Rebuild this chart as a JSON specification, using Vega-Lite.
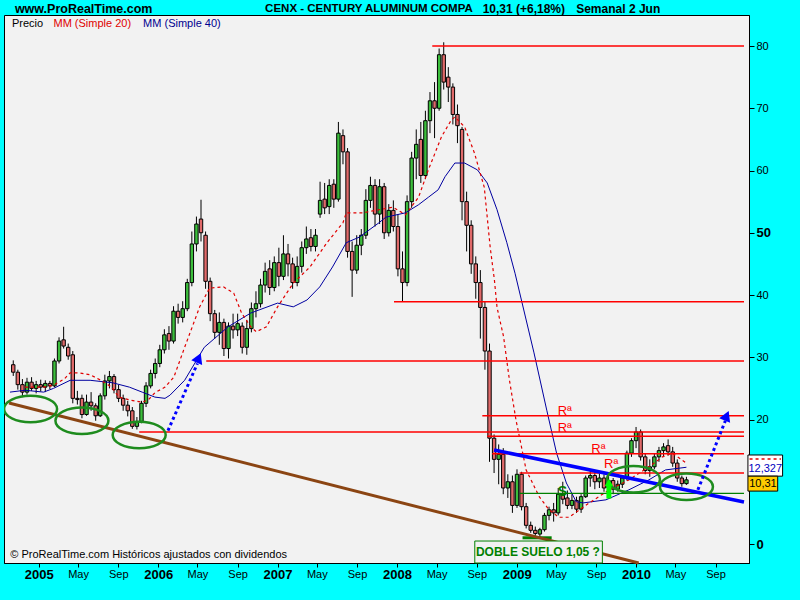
{
"$schema": "https://vega.github.io/schema/vega-lite/v6.json",
"width": 745, "height": 548,
"autosize": "none",
"padding": {"left": 4, "top": 15, "right": 51, "bottom": 37},
"background": "#00FFFF",
"config": {"view": {"fill": "#F2F2F2", "stroke": "#000000", "strokeWidth": 1}, "font": "Liberation Sans", "axis": {"grid": false}},
"datasets": {
"candles": [
{"d":"2004-10-15","o":28.8,"h":29.5,"l":27.0,"c":27.6},
{"d":"2004-10-29","o":27.6,"h":28.0,"l":24.8,"c":25.6},
{"d":"2004-11-12","o":25.6,"h":26.5,"l":23.6,"c":24.4},
{"d":"2004-11-26","o":24.4,"h":26.7,"l":24.0,"c":26.0},
{"d":"2004-12-10","o":26.0,"h":26.8,"l":24.6,"c":25.0},
{"d":"2004-12-24","o":25.0,"h":26.2,"l":24.2,"c":25.6},
{"d":"2005-01-07","o":25.6,"h":26.4,"l":24.5,"c":25.2},
{"d":"2005-01-21","o":25.2,"h":26.3,"l":24.4,"c":25.8},
{"d":"2005-02-04","o":25.8,"h":26.2,"l":24.9,"c":25.4},
{"d":"2005-02-18","o":25.4,"h":29.8,"l":25.2,"c":29.4},
{"d":"2005-03-04","o":29.4,"h":33.2,"l":29.0,"c":32.6},
{"d":"2005-03-18","o":32.8,"h":34.9,"l":31.4,"c":31.8},
{"d":"2005-04-01","o":31.6,"h":32.2,"l":29.6,"c":30.2},
{"d":"2005-04-15","o":30.4,"h":31.0,"l":22.6,"c":23.4},
{"d":"2005-04-29","o":23.4,"h":24.6,"l":22.4,"c":23.2},
{"d":"2005-05-13","o":23.4,"h":24.0,"l":20.2,"c":20.8},
{"d":"2005-05-27","o":20.8,"h":24.0,"l":20.6,"c":22.8},
{"d":"2005-06-10","o":22.8,"h":24.4,"l":21.4,"c":22.2},
{"d":"2005-06-24","o":22.2,"h":22.6,"l":19.8,"c":20.6},
{"d":"2005-07-08","o":20.6,"h":24.2,"l":20.4,"c":23.8},
{"d":"2005-07-22","o":23.8,"h":27.2,"l":23.2,"c":26.2},
{"d":"2005-08-05","o":26.2,"h":27.8,"l":25.0,"c":26.9},
{"d":"2005-08-19","o":26.9,"h":27.3,"l":24.2,"c":24.8},
{"d":"2005-09-02","o":24.8,"h":25.6,"l":22.8,"c":23.4},
{"d":"2005-09-16","o":23.4,"h":24.0,"l":21.4,"c":22.3},
{"d":"2005-09-30","o":22.3,"h":23.0,"l":20.5,"c":21.4},
{"d":"2005-10-14","o":21.4,"h":22.0,"l":18.5,"c":18.9},
{"d":"2005-10-28","o":18.9,"h":20.4,"l":18.4,"c":19.7},
{"d":"2005-11-11","o":19.7,"h":23.0,"l":19.4,"c":22.6},
{"d":"2005-11-25","o":22.6,"h":26.0,"l":22.0,"c":25.4},
{"d":"2005-12-09","o":25.4,"h":28.0,"l":25.0,"c":27.4},
{"d":"2005-12-23","o":27.4,"h":29.8,"l":26.6,"c":29.0},
{"d":"2006-01-06","o":29.0,"h":32.0,"l":28.4,"c":31.2},
{"d":"2006-01-20","o":31.2,"h":34.5,"l":30.6,"c":33.6},
{"d":"2006-02-03","o":33.8,"h":35.0,"l":31.2,"c":32.6},
{"d":"2006-02-17","o":32.6,"h":38.2,"l":32.2,"c":37.4},
{"d":"2006-03-03","o":37.4,"h":38.6,"l":35.4,"c":36.4},
{"d":"2006-03-17","o":36.4,"h":39.0,"l":35.6,"c":37.8},
{"d":"2006-03-31","o":37.8,"h":42.6,"l":37.4,"c":42.0},
{"d":"2006-04-14","o":42.0,"h":50.2,"l":41.4,"c":48.2},
{"d":"2006-04-28","o":48.2,"h":52.6,"l":47.0,"c":51.4},
{"d":"2006-05-12","o":52.2,"h":55.3,"l":48.6,"c":50.0},
{"d":"2006-05-26","o":49.6,"h":50.2,"l":41.0,"c":42.2},
{"d":"2006-06-09","o":42.2,"h":42.8,"l":35.8,"c":37.0},
{"d":"2006-06-23","o":37.0,"h":37.6,"l":33.0,"c":34.0},
{"d":"2006-07-07","o":34.0,"h":37.2,"l":32.0,"c":35.6},
{"d":"2006-07-21","o":35.6,"h":36.2,"l":30.2,"c":31.4},
{"d":"2006-08-04","o":31.4,"h":35.6,"l":29.8,"c":35.0},
{"d":"2006-08-18","o":35.0,"h":37.0,"l":33.0,"c":34.4},
{"d":"2006-09-01","o":34.4,"h":37.0,"l":33.4,"c":35.4},
{"d":"2006-09-15","o":35.0,"h":35.6,"l":30.6,"c":31.6},
{"d":"2006-09-29","o":31.6,"h":36.0,"l":30.4,"c":34.6},
{"d":"2006-10-13","o":34.6,"h":38.8,"l":34.0,"c":37.8},
{"d":"2006-10-27","o":37.8,"h":40.6,"l":36.4,"c":38.6},
{"d":"2006-11-10","o":38.6,"h":42.6,"l":38.0,"c":41.6},
{"d":"2006-11-24","o":41.6,"h":45.2,"l":40.4,"c":43.8},
{"d":"2006-12-08","o":44.2,"h":45.6,"l":40.0,"c":41.2},
{"d":"2006-12-22","o":41.2,"h":46.2,"l":40.6,"c":45.2},
{"d":"2007-01-05","o":45.2,"h":47.6,"l":41.4,"c":43.0},
{"d":"2007-01-19","o":43.0,"h":49.6,"l":42.4,"c":46.6},
{"d":"2007-02-02","o":46.6,"h":48.2,"l":43.0,"c":45.0},
{"d":"2007-02-16","o":45.0,"h":46.0,"l":41.0,"c":42.0},
{"d":"2007-03-02","o":42.0,"h":46.2,"l":41.4,"c":44.6},
{"d":"2007-03-16","o":44.6,"h":48.6,"l":43.6,"c":47.6},
{"d":"2007-03-30","o":47.6,"h":51.0,"l":46.6,"c":49.0},
{"d":"2007-04-13","o":49.2,"h":50.6,"l":47.0,"c":47.8},
{"d":"2007-04-27","o":47.8,"h":50.6,"l":47.0,"c":49.6},
{"d":"2007-05-11","o":53.0,"h":58.2,"l":52.4,"c":55.2},
{"d":"2007-05-25","o":55.4,"h":58.0,"l":53.0,"c":54.0},
{"d":"2007-06-08","o":54.2,"h":58.6,"l":53.0,"c":57.6},
{"d":"2007-06-22","o":57.8,"h":58.6,"l":54.0,"c":55.4},
{"d":"2007-07-06","o":55.4,"h":67.8,"l":55.0,"c":66.0},
{"d":"2007-07-20","o":65.6,"h":66.6,"l":61.0,"c":63.0},
{"d":"2007-08-03","o":63.0,"h":63.6,"l":46.0,"c":47.0},
{"d":"2007-08-17","o":47.0,"h":48.6,"l":39.7,"c":44.0},
{"d":"2007-08-31","o":44.0,"h":49.6,"l":43.4,"c":48.0},
{"d":"2007-09-14","o":48.0,"h":50.6,"l":46.4,"c":49.6},
{"d":"2007-09-28","o":49.6,"h":57.0,"l":49.0,"c":55.2},
{"d":"2007-10-12","o":55.2,"h":59.0,"l":54.0,"c":57.6},
{"d":"2007-10-26","o":57.6,"h":58.6,"l":51.0,"c":53.0},
{"d":"2007-11-09","o":53.0,"h":58.6,"l":51.4,"c":57.4},
{"d":"2007-11-23","o":57.4,"h":58.0,"l":49.0,"c":50.0},
{"d":"2007-12-07","o":50.0,"h":54.6,"l":49.4,"c":53.6},
{"d":"2007-12-21","o":53.6,"h":55.2,"l":50.2,"c":51.0},
{"d":"2008-01-04","o":51.0,"h":53.0,"l":43.0,"c":44.2},
{"d":"2008-01-18","o":44.2,"h":47.0,"l":38.9,"c":42.0},
{"d":"2008-02-01","o":42.0,"h":56.0,"l":41.4,"c":55.0},
{"d":"2008-02-15","o":55.0,"h":63.0,"l":54.0,"c":62.0},
{"d":"2008-02-29","o":62.0,"h":66.6,"l":58.6,"c":64.2},
{"d":"2008-03-14","o":65.0,"h":67.8,"l":58.0,"c":59.2},
{"d":"2008-03-28","o":59.2,"h":69.6,"l":58.6,"c":68.0},
{"d":"2008-04-11","o":68.0,"h":72.6,"l":66.0,"c":71.2},
{"d":"2008-04-25","o":71.2,"h":74.2,"l":65.2,"c":70.0},
{"d":"2008-05-09","o":70.0,"h":79.6,"l":69.6,"c":78.6},
{"d":"2008-05-23","o":78.6,"h":80.6,"l":73.0,"c":74.2},
{"d":"2008-06-06","o":75.0,"h":76.6,"l":71.0,"c":73.4},
{"d":"2008-06-20","o":73.4,"h":74.0,"l":67.4,"c":69.0},
{"d":"2008-07-04","o":69.0,"h":70.6,"l":64.4,"c":67.2},
{"d":"2008-07-18","o":66.6,"h":67.0,"l":52.0,"c":55.0},
{"d":"2008-08-01","o":55.0,"h":56.6,"l":47.0,"c":51.2},
{"d":"2008-08-15","o":51.2,"h":52.0,"l":43.4,"c":45.0},
{"d":"2008-08-29","o":45.0,"h":46.2,"l":39.4,"c":42.0},
{"d":"2008-09-12","o":42.0,"h":44.0,"l":33.0,"c":38.0},
{"d":"2008-09-26","o":38.0,"h":39.0,"l":28.0,"c":31.0},
{"d":"2008-10-10","o":31.0,"h":32.2,"l":13.2,"c":17.0},
{"d":"2008-10-24","o":17.0,"h":17.6,"l":11.4,"c":13.6},
{"d":"2008-11-07","o":13.6,"h":16.0,"l":9.6,"c":14.4},
{"d":"2008-11-21","o":14.4,"h":15.4,"l":8.0,"c":9.0},
{"d":"2008-12-05","o":9.0,"h":11.2,"l":7.4,"c":10.0},
{"d":"2008-12-19","o":10.0,"h":11.0,"l":5.0,"c":6.2},
{"d":"2009-01-02","o":6.2,"h":12.0,"l":5.8,"c":11.2},
{"d":"2009-01-16","o":11.2,"h":11.6,"l":5.4,"c":6.0},
{"d":"2009-01-30","o":6.0,"h":6.6,"l":2.5,"c":3.0},
{"d":"2009-02-13","o":3.0,"h":3.6,"l":1.8,"c":2.2},
{"d":"2009-02-27","o":2.2,"h":2.8,"l":1.3,"c":1.7},
{"d":"2009-03-13","o":1.6,"h":2.6,"l":1.05,"c":2.3},
{"d":"2009-03-27","o":2.3,"h":5.0,"l":2.0,"c":4.6},
{"d":"2009-04-10","o":4.6,"h":6.0,"l":3.8,"c":5.5},
{"d":"2009-04-24","o":5.5,"h":6.6,"l":3.6,"c":5.0},
{"d":"2009-05-08","o":5.0,"h":9.0,"l":4.6,"c":8.0},
{"d":"2009-05-22","o":8.0,"h":10.0,"l":6.4,"c":7.2},
{"d":"2009-06-05","o":7.4,"h":8.6,"l":5.6,"c":6.2},
{"d":"2009-06-19","o":6.2,"h":8.0,"l":5.6,"c":7.0},
{"d":"2009-07-03","o":7.0,"h":7.6,"l":5.0,"c":5.6},
{"d":"2009-07-17","o":5.6,"h":8.0,"l":5.0,"c":7.6},
{"d":"2009-07-31","o":7.6,"h":11.0,"l":7.4,"c":10.6},
{"d":"2009-08-14","o":10.6,"h":12.0,"l":9.2,"c":11.0},
{"d":"2009-08-28","o":11.0,"h":11.8,"l":8.8,"c":10.0},
{"d":"2009-09-11","o":10.0,"h":11.6,"l":9.0,"c":10.6},
{"d":"2009-09-25","o":10.6,"h":11.2,"l":8.4,"c":9.0},
{"d":"2009-10-09","o":9.0,"h":11.2,"l":8.4,"c":10.2},
{"d":"2009-10-23","o":10.2,"h":10.6,"l":8.0,"c":8.8},
{"d":"2009-11-06","o":8.8,"h":10.2,"l":8.4,"c":9.6},
{"d":"2009-11-20","o":9.6,"h":11.0,"l":9.0,"c":10.6},
{"d":"2009-12-04","o":10.6,"h":15.0,"l":10.2,"c":14.6},
{"d":"2009-12-18","o":14.6,"h":17.0,"l":14.0,"c":16.6},
{"d":"2010-01-01","o":16.6,"h":18.8,"l":15.4,"c":18.0},
{"d":"2010-01-15","o":18.0,"h":18.4,"l":13.4,"c":14.0},
{"d":"2010-01-29","o":14.0,"h":14.6,"l":11.2,"c":11.8},
{"d":"2010-02-12","o":11.8,"h":13.6,"l":10.8,"c":12.4},
{"d":"2010-02-26","o":12.4,"h":14.6,"l":12.0,"c":14.0},
{"d":"2010-03-12","o":14.0,"h":15.6,"l":13.2,"c":15.0},
{"d":"2010-03-26","o":15.0,"h":16.2,"l":14.0,"c":15.6},
{"d":"2010-04-09","o":15.8,"h":16.8,"l":14.2,"c":14.8},
{"d":"2010-04-23","o":14.8,"h":15.6,"l":12.4,"c":13.0},
{"d":"2010-05-07","o":13.0,"h":13.6,"l":10.0,"c":10.6},
{"d":"2010-05-21","o":10.6,"h":11.0,"l":9.2,"c":9.7},
{"d":"2010-06-04","o":9.7,"h":10.8,"l":9.5,"c":10.31}
],
"ma20": [
{"d":"2004-11-20","v":25.2},{"d":"2005-01-16","v":25.2},{"d":"2005-02-15","v":25.5},{"d":"2005-03-20","v":26.5},
{"d":"2005-04-07","v":27.5},{"d":"2005-05-01","v":27.5},{"d":"2005-06-07","v":27.2},{"d":"2005-07-10","v":26.3},
{"d":"2005-08-12","v":25.2},{"d":"2005-09-03","v":23.6},{"d":"2005-10-10","v":23.1},{"d":"2005-11-13","v":22.8},
{"d":"2005-12-01","v":23.1},{"d":"2005-12-22","v":24.3},{"d":"2006-01-22","v":25.2},{"d":"2006-02-18","v":26.8},
{"d":"2006-03-23","v":31.6},{"d":"2006-05-08","v":38.1},{"d":"2006-06-07","v":41.1},{"d":"2006-07-20","v":41.3},
{"d":"2006-08-20","v":40.3},{"d":"2006-09-13","v":37.1},{"d":"2006-10-11","v":34.9},{"d":"2006-10-28","v":34.1},
{"d":"2006-11-28","v":34.9},{"d":"2007-01-01","v":38.1},{"d":"2007-02-18","v":41.9},{"d":"2007-04-10","v":44.5},
{"d":"2007-06-01","v":48.4},{"d":"2007-07-20","v":51.6},{"d":"2007-07-30","v":53.2},{"d":"2007-09-18","v":53.2},
{"d":"2007-11-07","v":53.7},{"d":"2007-12-20","v":54.1},{"d":"2008-01-27","v":52.9},{"d":"2008-03-07","v":55.7},
{"d":"2008-04-06","v":60.1},{"d":"2008-05-16","v":65.4},{"d":"2008-06-15","v":68.1},{"d":"2008-06-26","v":68.6},
{"d":"2008-07-26","v":67.0},{"d":"2008-08-25","v":62.8},{"d":"2008-09-24","v":57.3},{"d":"2008-10-12","v":47.7},
{"d":"2008-10-25","v":42.4},{"d":"2008-11-02","v":38.0},{"d":"2008-11-22","v":33.3},{"d":"2008-12-10","v":26.3},
{"d":"2008-12-30","v":19.9},{"d":"2009-01-30","v":11.9},{"d":"2009-03-11","v":7.6},{"d":"2009-04-10","v":5.5},
{"d":"2009-05-10","v":4.3},{"d":"2009-06-10","v":4.3},{"d":"2009-08-11","v":6.6},{"d":"2009-10-11","v":8.7},
{"d":"2009-12-10","v":10.3},{"d":"2010-02-09","v":12.4},{"d":"2010-03-23","v":14.0},{"d":"2010-04-22","v":14.6},
{"d":"2010-06-04","v":13.0}
],
"ma40": [
{"d":"2004-10-05","v":24.4},{"d":"2004-11-20","v":24.7},{"d":"2005-01-16","v":24.4},{"d":"2005-02-15","v":25.0},
{"d":"2005-04-07","v":26.3},{"d":"2005-06-07","v":26.3},{"d":"2005-08-15","v":25.9},{"d":"2005-10-05","v":25.2},
{"d":"2005-11-13","v":24.4},{"d":"2005-12-22","v":23.6},{"d":"2006-01-22","v":23.4},{"d":"2006-02-06","v":23.9},
{"d":"2006-03-23","v":26.3},{"d":"2006-05-22","v":31.6},{"d":"2006-08-03","v":34.9},{"d":"2006-10-11","v":37.1},
{"d":"2007-01-01","v":38.7},{"d":"2007-02-18","v":38.1},{"d":"2007-04-01","v":39.2},{"d":"2007-05-10","v":41.3},
{"d":"2007-06-18","v":44.5},{"d":"2007-07-30","v":48.4},{"d":"2007-09-08","v":49.3},{"d":"2007-11-07","v":51.6},
{"d":"2007-11-28","v":52.5},{"d":"2008-01-27","v":53.2},{"d":"2008-03-07","v":54.5},{"d":"2008-04-06","v":55.7},
{"d":"2008-05-06","v":56.9},{"d":"2008-05-27","v":59.0},{"d":"2008-06-26","v":61.2},{"d":"2008-07-26","v":61.2},
{"d":"2008-09-03","v":60.1},{"d":"2008-10-03","v":58.0},{"d":"2008-11-02","v":53.7},{"d":"2008-12-02","v":48.4},
{"d":"2008-12-27","v":43.5},{"d":"2009-02-23","v":30.7},{"d":"2009-04-03","v":21.5},{"d":"2009-05-03","v":14.6},
{"d":"2009-06-02","v":9.8},{"d":"2009-07-02","v":6.8},{"d":"2009-07-23","v":6.6},{"d":"2009-10-01","v":7.1},
{"d":"2009-12-10","v":8.7},{"d":"2010-02-09","v":10.3},{"d":"2010-04-01","v":11.9},{"d":"2010-06-04","v":12.33}
],
"hlines": [
{"s":"2008-04-18","e":"2010-11-27","v":80},
{"s":"2007-12-23","e":"2010-11-27","v":38.9},
{"s":"2006-05-28","e":"2010-11-27","v":29.4},
{"s":"2005-11-04","e":"2010-11-27","v":18.0},
{"s":"2008-09-18","e":"2010-11-27","v":20.6},
{"s":"2008-10-03","e":"2010-11-27","v":17.3},
{"s":"2008-10-18","e":"2010-11-27","v":14.5},
{"s":"2009-01-10","e":"2010-11-27","v":11.4}
],
"ellipses": [
{"d":"2004-12-07","v":21.7},{"d":"2005-05-13","v":19.8},{"d":"2005-11-04","v":17.5},{"d":"2009-12-24","v":10.4},{"d":"2010-06-04","v":9.2}
]
},
"layer": [
{"data": {"name": "candles"}, "mark": {"type": "rule", "color": "#000000", "strokeWidth": 1},
 "encoding": {
  "x": {"field": "d", "type": "temporal",
   "scale": {"domain": [{"year": 2004, "month": 10, "date": 2}, {"year": 2010, "month": 11, "date": 27}]},
   "axis": {"orient": "bottom", "title": null, "grid": false, "domainColor": "#000000", "tickColor": "#000000", "tickSize": 4,
    "labelPadding": 1, "labelAlign": "center", "labelBaseline": "top", "labelFlush": false, "labelOverlap": false, "labelColor": "#000000",
    "labelFont": "Liberation Sans",
    "labelFontSize": {"condition": {"test": "month(datum.value) == 0", "value": 13}, "value": 11},
    "labelFontWeight": {"condition": {"test": "month(datum.value) == 0", "value": "bold"}, "value": "normal"},
    "labelExpr": "month(datum.value) == 0 ? timeFormat(datum.value, '%Y') : (month(datum.value) == 4 ? 'May' : 'Sep')",
    "values": [{"year":2005,"month":1,"date":1},{"year":2005,"month":5,"date":1},{"year":2005,"month":9,"date":1},
               {"year":2006,"month":1,"date":1},{"year":2006,"month":5,"date":1},{"year":2006,"month":9,"date":1},
               {"year":2007,"month":1,"date":1},{"year":2007,"month":5,"date":1},{"year":2007,"month":9,"date":1},
               {"year":2008,"month":1,"date":1},{"year":2008,"month":5,"date":1},{"year":2008,"month":9,"date":1},
               {"year":2009,"month":1,"date":1},{"year":2009,"month":5,"date":1},{"year":2009,"month":9,"date":1},
               {"year":2010,"month":1,"date":1},{"year":2010,"month":5,"date":1},{"year":2010,"month":9,"date":1}]}},
  "y": {"field": "l", "type": "quantitative",
   "scale": {"domain": [-3.05, 84.98], "nice": false, "zero": false},
   "axis": {"orient": "right", "title": null, "grid": false, "domainColor": "#000000", "tickColor": "#000000", "tickSize": 5,
    "labelPadding": 2, "labelColor": "#000000", "labelFont": "Liberation Sans",
    "labelExpr": "datum.value == 10 ? '' : datum.label",
    "labelFontSize": {"condition": {"test": "datum.value == 50 || datum.value == 0", "value": 13}, "value": 11},
    "labelFontWeight": {"condition": {"test": "datum.value == 50 || datum.value == 0", "value": "bold"}, "value": "normal"},
    "values": [0,5,10,15,20,25,30,35,40,45,50,55,60,65,70,75,80]}},
  "y2": {"field": "h"}}},
{"data": {"name": "candles"}, "mark": {"type": "bar", "size": 3.4, "stroke": "#000000", "strokeWidth": 1},
 "encoding": {
  "x": {"field": "d", "type": "temporal", "title": null},
  "y": {"field": "o", "type": "quantitative", "title": null},
  "y2": {"field": "c"},
  "fill": {"condition": {"test": "datum.c >= datum.o", "value": "#3CBE3C"}, "value": "#E06A6A"}}},
{"data": {"name": "ma40"}, "mark": {"type": "line", "color": "#0000A0", "strokeWidth": 1},
 "encoding": {"x": {"field": "d", "type": "temporal", "title": null}, "y": {"field": "v", "type": "quantitative", "title": null}}},
{"data": {"name": "ma20"}, "mark": {"type": "line", "color": "#E00000", "strokeWidth": 1.2, "strokeDash": [3, 3]},
 "encoding": {"x": {"field": "d", "type": "temporal", "title": null}, "y": {"field": "v", "type": "quantitative", "title": null}}},
{"data": {"name": "hlines"}, "mark": {"type": "rule", "color": "#FF0000", "strokeWidth": 1.5},
 "encoding": {"x": {"field": "s", "type": "temporal", "title": null}, "x2": {"field": "e"}, "y": {"field": "v", "type": "quantitative", "title": null}}},
{"data": {"values": [{"s": "2009-01-10", "e": "2010-11-27", "v": 8.15}]}, "mark": {"type": "rule", "color": "#008000", "strokeWidth": 1.2},
 "encoding": {"x": {"field": "s", "type": "temporal", "title": null}, "x2": {"field": "e"}, "y": {"field": "v", "type": "quantitative", "title": null}}},
{"data": {"values": [{"s": "2009-01-19", "e": "2009-04-18", "v": 1.0}]}, "mark": {"type": "rule", "color": "#008000", "strokeWidth": 3},
 "encoding": {"x": {"field": "s", "type": "temporal", "title": null}, "x2": {"field": "e"}, "y": {"field": "v", "type": "quantitative", "title": null}}},
{"data": {"values": [{"d1": "2004-10-02", "v1": 22.65, "d2": "2010-01-09", "v2": -3.05}]}, "mark": {"type": "rule", "color": "#8B4513", "strokeWidth": 3},
 "encoding": {"x": {"field": "d1", "type": "temporal", "title": null}, "y": {"field": "v1", "type": "quantitative", "title": null}, "x2": {"field": "d2"}, "y2": {"field": "v2"}}},
{"data": {"values": [{"d1": "2008-10-24", "v1": 15.1, "d2": "2010-11-27", "v2": 6.75}]}, "mark": {"type": "rule", "color": "#0000FF", "strokeWidth": 3.5},
 "encoding": {"x": {"field": "d1", "type": "temporal", "title": null}, "y": {"field": "v1", "type": "quantitative", "title": null}, "x2": {"field": "d2"}, "y2": {"field": "v2"}}},
{"data": {"name": "ellipses"}, "mark": {"type": "point", "clip": true, "filled": false, "stroke": "#1E8C1E", "strokeWidth": 2.5, "opacity": 1, "size": 2809,
  "shape": "M -1 0 C -1 -0.276 -0.552 -0.5 0 -0.5 C 0.552 -0.5 1 -0.276 1 0 C 1 0.276 0.552 0.5 0 0.5 C -0.552 0.5 -1 0.276 -1 0 Z"},
 "encoding": {"x": {"field": "d", "type": "temporal", "title": null}, "y": {"field": "v", "type": "quantitative", "title": null}}},
{"data": {"values": [{"d1": "2006-01-31", "v1": 18.2, "d2": "2006-05-01", "v2": 29.0}, {"d1": "2010-07-09", "v1": 8.7, "d2": "2010-10-01", "v2": 19.8}]},
 "mark": {"type": "rule", "color": "#0000FF", "strokeWidth": 3, "strokeDash": [3, 3]},
 "encoding": {"x": {"field": "d1", "type": "temporal", "title": null}, "y": {"field": "v1", "type": "quantitative", "title": null}, "x2": {"field": "d2"}, "y2": {"field": "v2"}}},
{"data": {"values": [{"d": "2006-05-05", "v": 29.9}, {"d": "2010-10-05", "v": 20.6}]},
 "mark": {"type": "point", "shape": "triangle-up", "filled": true, "color": "#0000FF", "opacity": 1, "size": 140, "angle": 23},
 "encoding": {"x": {"field": "d", "type": "temporal", "title": null}, "y": {"field": "v", "type": "quantitative", "title": null}}},
{"data": {"values": [{"d": "2009-10-10", "v1": 7.3, "v2": 9.4}]}, "mark": {"type": "rule", "color": "#00FF00", "strokeWidth": 5},
 "encoding": {"x": {"field": "d", "type": "temporal", "title": null}, "y": {"field": "v1", "type": "quantitative", "title": null}, "y2": {"field": "v2"}}},
{"data": {"values": [{"d": "2009-10-10", "v": 9.9}]}, "mark": {"type": "point", "shape": "triangle-up", "filled": true, "color": "#00FF00", "opacity": 1, "size": 70},
 "encoding": {"x": {"field": "d", "type": "temporal", "title": null}, "y": {"field": "v", "type": "quantitative", "title": null}}},
{"data": {"values": [{"d": "2009-05-28", "v": 21.3, "t": "Rª"}, {"d": "2009-05-28", "v": 18.7, "t": "Rª"}, {"d": "2009-09-08", "v": 15.2, "t": "Rª"}, {"d": "2009-10-17", "v": 12.9, "t": "Rª"}]},
 "mark": {"type": "text", "color": "#FF0000", "fontSize": 13, "align": "center", "baseline": "middle"},
 "encoding": {"x": {"field": "d", "type": "temporal", "title": null}, "y": {"field": "v", "type": "quantitative", "title": null}, "text": {"field": "t"}}},
{"data": {"values": [{"d": "2009-05-21", "v": 8.4, "t": "S"}]},
 "mark": {"type": "text", "color": "#008000", "fontSize": 14, "fontWeight": "bold", "align": "center", "baseline": "middle"},
 "encoding": {"x": {"field": "d", "type": "temporal", "title": null}, "y": {"field": "v", "type": "quantitative", "title": null}, "text": {"field": "t"}}},
{"data": {"values": [{"d1": "2008-08-26", "d2": "2009-09-20", "v1": 0.48, "v2": -3.05}]},
 "mark": {"type": "rect", "fill": "#F2F2F2", "stroke": "#008000", "strokeWidth": 1},
 "encoding": {"x": {"field": "d1", "type": "temporal", "title": null}, "x2": {"field": "d2"}, "y": {"field": "v1", "type": "quantitative", "title": null}, "y2": {"field": "v2"}}},
{"data": {"values": [{"d": "2009-03-07", "v": -1.3, "t": "DOBLE SUELO 1,05 ?"}]},
 "mark": {"type": "text", "color": "#008000", "fontSize": 12, "fontWeight": "bold", "align": "center", "baseline": "middle"},
 "encoding": {"x": {"field": "d", "type": "temporal", "title": null}, "y": {"field": "v", "type": "quantitative", "title": null}, "text": {"field": "t"}}},
{"data": {"values": [{"d": "2004-10-11", "v": 83.6, "t": "Precio"}]},
 "mark": {"type": "text", "color": "#000000", "fontSize": 11, "align": "left", "baseline": "middle"},
 "encoding": {"x": {"field": "d", "type": "temporal", "title": null}, "y": {"field": "v", "type": "quantitative", "title": null}, "text": {"field": "t"}}},
{"data": {"values": [{"d": "2005-02-15", "v": 83.6, "t": "MM (Simple 20)"}]},
 "mark": {"type": "text", "color": "#E00000", "fontSize": 11, "align": "left", "baseline": "middle"},
 "encoding": {"x": {"field": "d", "type": "temporal", "title": null}, "y": {"field": "v", "type": "quantitative", "title": null}, "text": {"field": "t"}}},
{"data": {"values": [{"d": "2005-11-16", "v": 83.6, "t": "MM (Simple 40)"}]},
 "mark": {"type": "text", "color": "#000090", "fontSize": 11, "align": "left", "baseline": "middle"},
 "encoding": {"x": {"field": "d", "type": "temporal", "title": null}, "y": {"field": "v", "type": "quantitative", "title": null}, "text": {"field": "t"}}},
{"data": {"values": [{"d": "2004-10-06", "v": -1.77, "t": "© ProRealTime.com  Históricos ajustados con dividendos"}]},
 "mark": {"type": "text", "color": "#000000", "fontSize": 11, "align": "left", "baseline": "middle"},
 "encoding": {"x": {"field": "d", "type": "temporal", "title": null}, "y": {"field": "v", "type": "quantitative", "title": null}, "text": {"field": "t"}}},
{"data": {"values": [{"d": "2004-10-20", "v": 85.94, "t": "www.ProRealTime.com"}]},
 "mark": {"type": "text", "color": "#000000", "fontSize": 12.5, "fontWeight": "bold", "align": "left", "baseline": "middle"},
 "encoding": {"x": {"field": "d", "type": "temporal", "title": null}, "y": {"field": "v", "type": "quantitative", "title": null}, "text": {"field": "t"}}},
{"data": {"values": [{"d": "2006-11-24", "v": 85.94, "t": "CENX - CENTURY ALUMINUM COMPA"}]},
 "mark": {"type": "text", "color": "#000000", "fontSize": 11.5, "fontWeight": "bold", "align": "left", "baseline": "middle"},
 "encoding": {"x": {"field": "d", "type": "temporal", "title": null}, "y": {"field": "v", "type": "quantitative", "title": null}, "text": {"field": "t"}}},
{"data": {"values": [{"d": "2008-09-19", "v": 85.94, "t": "10,31 (+6,18%)"}]},
 "mark": {"type": "text", "color": "#000000", "fontSize": 12, "fontWeight": "bold", "align": "left", "baseline": "middle"},
 "encoding": {"x": {"field": "d", "type": "temporal", "title": null}, "y": {"field": "v", "type": "quantitative", "title": null}, "text": {"field": "t"}}},
{"data": {"values": [{"d": "2009-07-02", "v": 85.94, "t": "Semanal  2 Jun"}]},
 "mark": {"type": "text", "color": "#000000", "fontSize": 12, "fontWeight": "bold", "align": "left", "baseline": "middle"},
 "encoding": {"x": {"field": "d", "type": "temporal", "title": null}, "y": {"field": "v", "type": "quantitative", "title": null}, "text": {"field": "t"}}},
{"data": {"values": [{"d1": "2010-12-09", "d2": "2011-03-25", "v1": 14.3, "v2": 10.9}]},
 "mark": {"type": "rect", "fill": "#FFFFFF", "stroke": "#000000", "strokeWidth": 1},
 "encoding": {"x": {"field": "d1", "type": "temporal", "title": null}, "x2": {"field": "d2"}, "y": {"field": "v1", "type": "quantitative", "title": null}, "y2": {"field": "v2"}}},
{"data": {"values": [{"d1": "2010-12-14", "d2": "2011-03-20", "v": 13.65}]},
 "mark": {"type": "rule", "color": "#E00000", "strokeWidth": 1.5, "strokeDash": [3, 3]},
 "encoding": {"x": {"field": "d1", "type": "temporal", "title": null}, "x2": {"field": "d2"}, "y": {"field": "v", "type": "quantitative", "title": null}}},
{"data": {"values": [{"d1": "2010-12-09", "d2": "2011-03-10", "v1": 10.9, "v2": 8.5}]},
 "mark": {"type": "rect", "fill": "#FFCC00", "stroke": "#000000", "strokeWidth": 1},
 "encoding": {"x": {"field": "d1", "type": "temporal", "title": null}, "x2": {"field": "d2"}, "y": {"field": "v1", "type": "quantitative", "title": null}, "y2": {"field": "v2"}}},
{"data": {"values": [{"d": "2011-01-31", "v": 12.05, "t": "12,327"}]},
 "mark": {"type": "text", "color": "#0000C0", "fontSize": 11, "align": "center", "baseline": "middle"},
 "encoding": {"x": {"field": "d", "type": "temporal", "title": null}, "y": {"field": "v", "type": "quantitative", "title": null}, "text": {"field": "t"}}},
{"data": {"values": [{"d": "2011-01-24", "v": 9.72, "t": "10,31"}]},
 "mark": {"type": "text", "color": "#000000", "fontSize": 11, "align": "center", "baseline": "middle"},
 "encoding": {"x": {"field": "d", "type": "temporal", "title": null}, "y": {"field": "v", "type": "quantitative", "title": null}, "text": {"field": "t"}}}
]
}
